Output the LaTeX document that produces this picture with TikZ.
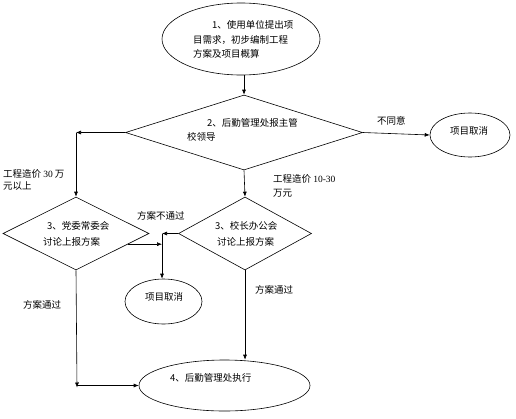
\documentclass[tikz,border=0pt]{standalone}
\usepackage{fontspec}
\setmainfont{Liberation Serif}
\newfontfamily\cjk{Noto Sans CJK SC}
\usetikzlibrary{shapes.geometric,arrows.meta,calc}
\tikzset{
  base/.style={draw=black, line width=0.6pt, inner sep=0pt},
  oval/.style={base, ellipse},
  decide/.style={base, diamond},
  txt/.style={font=\cjk\fontsize{9.5}{14}\selectfont, inner sep=0pt, anchor=west, align=left},
  conn/.style={draw=black, line width=0.6pt},
  arr/.style={conn, -{Latex[length=5pt,width=4pt]}},
}
\begin{document}
\begin{tikzpicture}[x=1pt,y=-1pt]
\useasboundingbox[fill=white] (0,0) rectangle (516,418);
% shapes
\node[oval, minimum width=158pt, minimum height=72pt] (e1) at (241,39) {};
\node[decide, minimum width=237pt, minimum height=75pt] (d2) at (244,132.5) {};
\node[oval, minimum width=80pt, minimum height=44pt] (c1) at (470,135) {};
\node[decide, minimum width=146pt, minimum height=73pt] (d3a) at (76,233.5) {};
\node[decide, minimum width=133pt, minimum height=73pt] (d3b) at (245,233.5) {};
\node[oval, minimum width=77pt, minimum height=45pt] (c2) at (163.5,301.5) {};
\node[oval, minimum width=171pt, minimum height=51pt] (e4) at (224.5,385.5) {};
% texts in shapes
\node[txt] (t1a) at (212,25) {1、使用单位提出项};
\node[txt] (t1b) at (193,40) {目需求，初步编制工程};
\node[txt] (t1c) at (193,54) {方案及项目概算};
\node[txt] (t2a) at (207,123) {2、后勤管理处报主管};
\node[txt] (t2b) at (187,137) {校领导};
\node[txt] (tc1) at (450,131) {项目取消};
\node[txt] (t3aa) at (47,226) {3、党委常委会};
\node[txt] (t3ab) at (43,242) {讨论上报方案};
\node[txt] (t3ba) at (215,226) {3、校长办公会};
\node[txt] (t3bb) at (217,242) {讨论上报方案};
\node[txt] (tc2) at (145,297) {项目取消};
\node[txt] (t4) at (170,378) {4、后勤管理处执行};
% labels
\node[txt] (l1) at (377,121) {不同意};
\node[txt] (l2a) at (3,174) {工程造价 {\rmfamily 30} 万};
\node[txt] (l2b) at (3,186) {元以上};
\node[txt] (l3a) at (273,179) {工程造价 {\rmfamily 10-30}};
\node[txt] (l3b) at (273,193) {万元};
\node[txt] (l4) at (137,216) {方案不通过};
\node[txt] (l5) at (23,305) {方案通过};
\node[txt] (l6) at (255,290) {方案通过};
% helper coordinates
\coordinate (cL) at (d3a.north |- d2.west);
\coordinate (cM) at (162,233.5);
\coordinate (cA) at ($(d3a.east)!0.29!(d3a.south)$);
\coordinate (cB) at (77,385.5);
% connectors
\draw[arr] (e1.south -| d2.north) -- (d2.north);
\draw[arr] (d2.west) -- (cL);
\draw[arr] (cL) -- (d3a.north);
\draw[arr] (d2.east) -- (c1.west);
\draw[arr] (d2.south) -- (d3b.north);
\draw[arr] (cA) -- (cA -| cM);
\draw[arr] (d3b.west) -- (cM);
\draw[arr] (cM) -- (cM |- c2.north);
\draw[arr] (d3a.south) -- ([yshift=-2pt]cB);
\draw[arr] (cB) -- (e4.west);
\draw[arr] (d3b.south) -- (d3b.south |- e4.north);
\end{tikzpicture}
\end{document}
